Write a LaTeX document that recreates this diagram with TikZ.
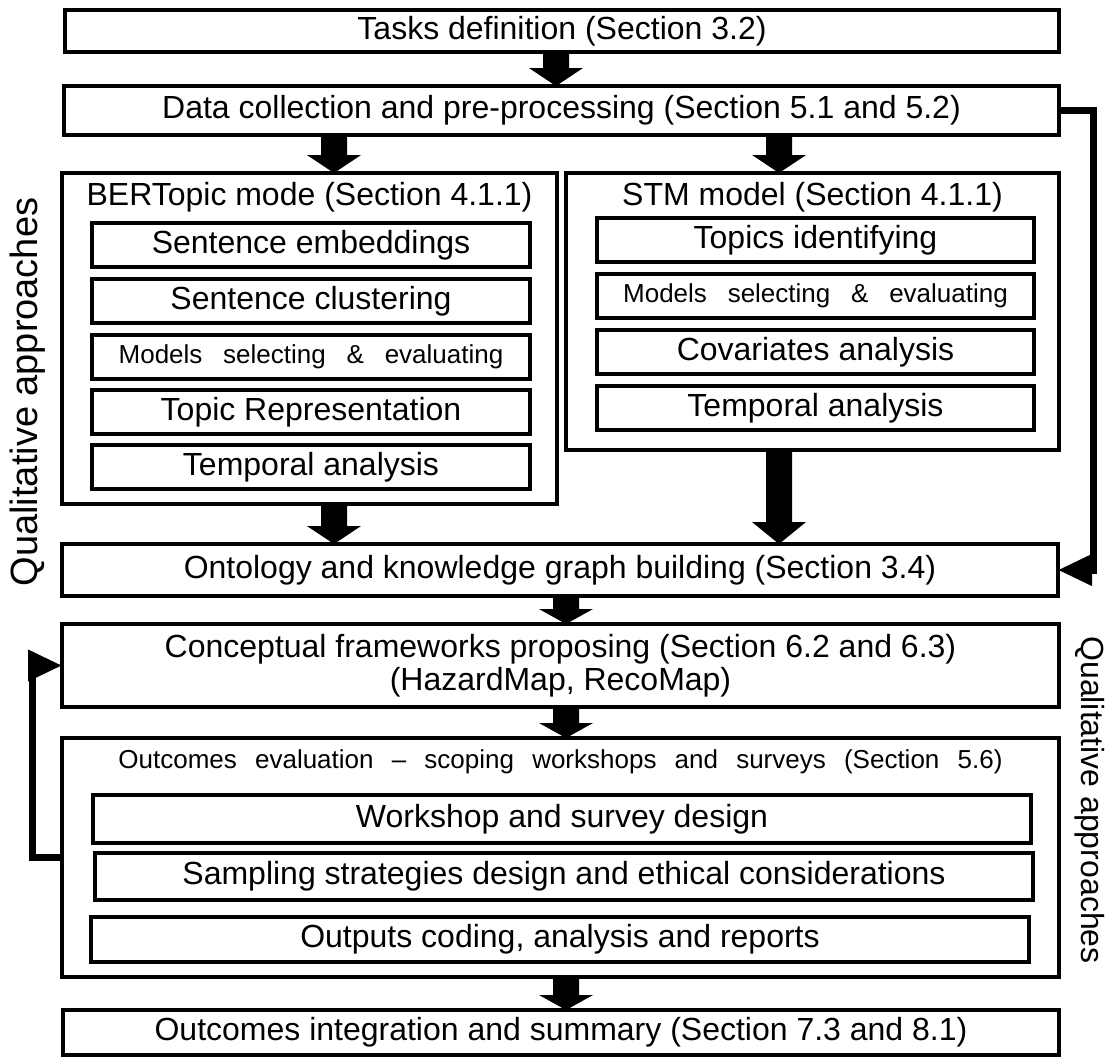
\documentclass[tikz,border=0pt]{standalone}
\usepackage{fontspec}
\setmainfont{Liberation Sans}
\usetikzlibrary{calc,arrows.meta}

\tikzset{
  box/.style={draw, line width=4pt, inner sep=0pt, outer sep=0pt, align=center,
              font=\fontsize{32}{33}\selectfont},
  group/.style={draw, line width=4pt, inner sep=0pt, outer sep=0pt},
  heading/.style={inner sep=0pt, font=\fontsize{32}{33}\selectfont},
  smalltext/.style={font=\fontsize{26}{28}\selectfont},
  sidelabel/.style={inner sep=0pt, anchor=base},
  link/.style={line width=7pt, line join=miter, -{Triangle[length=34pt,width=30pt]}},
}

% filled block arrow going down from one node to the next, at a given x
\newcommand\blockarrow[4][18]{%
  \fill ($(#3.south -| #2)+(-13,0)$) -- ($(#4.north -| #2)+(-13,-#1)$)
     -- ($(#4.north -| #2)+(-27,-#1)$) -- (#4.north -| #2)
     -- ($(#4.north -| #2)+(27,-#1)$) -- ($(#4.north -| #2)+(13,-#1)$)
     -- ($(#3.south -| #2)+(13,0)$) -- cycle;}

\begin{document}
\begin{tikzpicture}[x=1pt, y=-1pt]
\useasboundingbox (0,0) rectangle (1111,1061);

% main flow
\node[box, minimum width=994pt, minimum height=42pt] (tasks) at (562,31)
  {Tasks definition (Section 3.2)};
\node[box, minimum width=995pt, minimum height=49pt] (data) at (561.5,110.5)
  {Data collection and pre-processing (Section 5.1 and 5.2)};

% BERTopic branch
\node[group, minimum width=495pt, minimum height=331pt] (bert) at (309.5,338.5) {};
\node[heading] (berthead) at (309.5,197) {BERTopic mode (Section 4.1.1)};
\node[box, minimum width=438pt, minimum height=44pt] (b1) at (311,245) {Sentence embeddings};
\node[box, minimum width=438pt, minimum height=44pt] (b2) at (311,301) {Sentence clustering};
\node[box, minimum width=438pt, minimum height=44pt, smalltext] (b3) at (311,357)
  {Models\hspace{0.8em}selecting\hspace{0.8em}\&\hspace{0.8em}evaluating};
\node[box, minimum width=438pt, minimum height=44pt] (b4) at (311,412) {Topic Representation};
\node[box, minimum width=438pt, minimum height=44pt] (b5) at (311,467) {Temporal analysis};

% STM branch
\node[group, minimum width=493pt, minimum height=277pt] (stm) at (812.5,311.5) {};
\node[heading] (stmhead) at (812.5,197) {STM model (Section 4.1.1)};
\node[box, minimum width=437pt, minimum height=44pt] (s1) at (815.5,240) {Topics identifying};
\node[box, minimum width=437pt, minimum height=44pt, smalltext] (s2) at (815.5,296)
  {Models\hspace{0.8em}selecting\hspace{0.8em}\&\hspace{0.8em}evaluating};
\node[box, minimum width=437pt, minimum height=44pt] (s3) at (815.5,352) {Covariates analysis};
\node[box, minimum width=437pt, minimum height=44pt] (s4) at (815.5,408) {Temporal analysis};

\node[box, minimum width=996pt, minimum height=52pt] (ont) at (560,570)
  {Ontology and knowledge graph building (Section 3.4)};
\node[box, minimum width=997pt, minimum height=83pt] (conc) at (560.5,665.5)
  {Conceptual frameworks proposing (Section 6.2 and 6.3)\\(HazardMap, RecoMap)};

% outcomes evaluation group
\node[group, minimum width=997pt, minimum height=239pt] (outc) at (560.5,857.5) {};
\node[heading, smalltext] (outchead) at (560.5,762)
  {\spaceskip=0.7em Outcomes evaluation -- scoping workshops and surveys (Section 5.6)};
\node[box, minimum width=938pt, minimum height=48pt] (o1) at (562,819) {Workshop and survey design};
\node[box, minimum width=938pt, minimum height=47pt] (o2) at (564,876.5)
  {Sampling strategies design and ethical considerations};
\node[box, minimum width=938pt, minimum height=45pt] (o3) at (560,939.5)
  {Outputs coding, analysis and reports};

\node[box, minimum width=996pt, minimum height=45pt] (final) at (561,1032.5)
  {Outcomes integration and summary (Section 7.3 and 8.1)};

% side labels
\node[sidelabel, rotate=90, font=\fontsize{38}{40}\selectfont] (leftlbl) at (37,392)
  {Qualitative approaches};
\node[sidelabel, rotate=-90, font=\fontsize{32}{34}\selectfont] (rightlbl) at (1081,800)
  {Qualitative approaches};

% x positions of the block arrows and of the feedback lines
\coordinate (xa) at (556,0);
\coordinate (xb) at (334,0);
\coordinate (xc) at (779,0);
\coordinate (xd) at (566,0);
\coordinate (rx) at (1093,0);
\coordinate (lx) at (32,0);

\blockarrow{xa}{tasks}{data}
\blockarrow{xb}{data}{bert}
\blockarrow{xc}{data}{stm}
\blockarrow{xb}{bert}{ont}
\blockarrow[22]{xc}{stm}{ont}
\blockarrow[15]{xd}{ont}{conc}
\blockarrow[15]{xd}{conc}{outc}
\blockarrow[15]{xd}{outc}{final}

% feedback connectors
\draw[link] (data.east) -| (rx |- ont.east) -- (ont.east);
\draw[link] (outc.west) -| (lx |- conc.west) -- (conc.west);
\end{tikzpicture}
\end{document}
